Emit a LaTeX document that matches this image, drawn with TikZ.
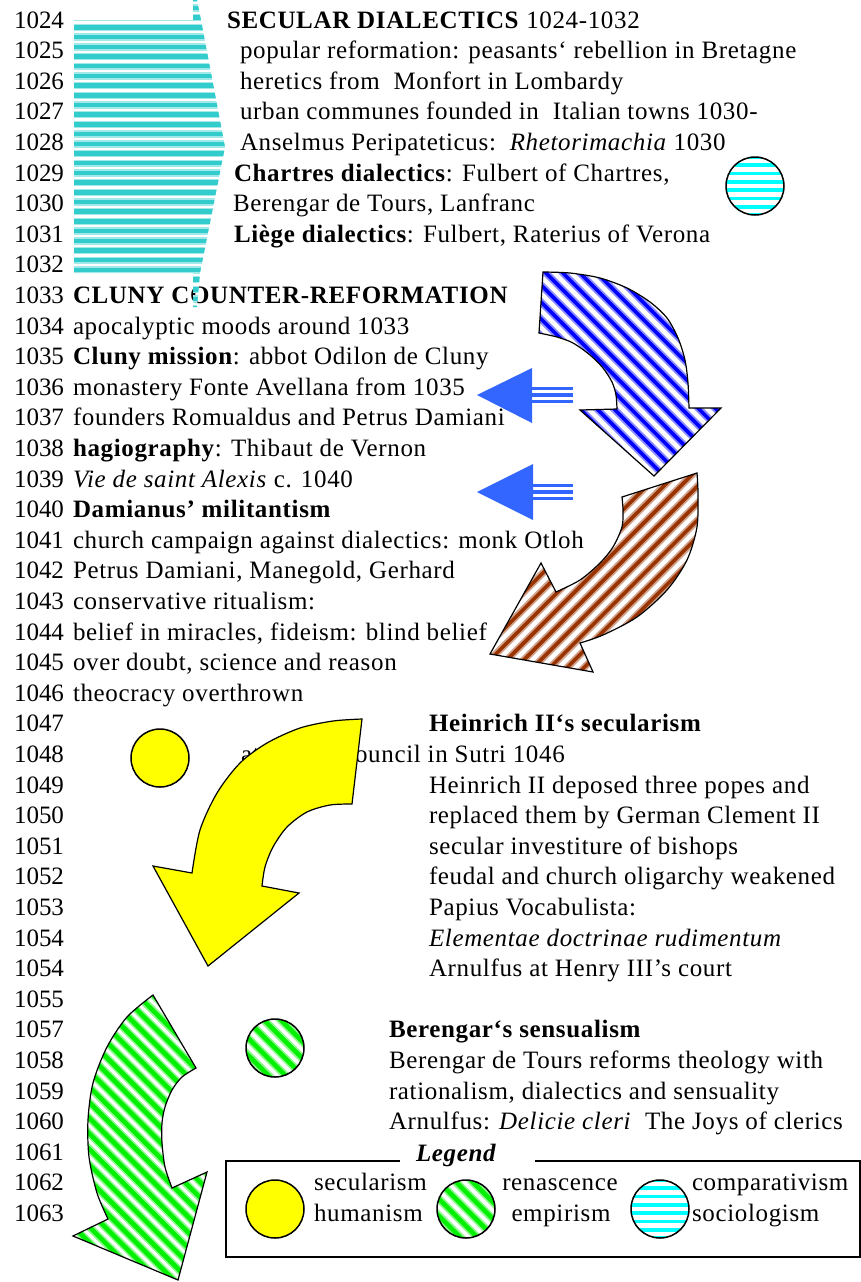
\documentclass[tikz,border=0pt]{standalone}
\usepackage{fontspec}
\setmainfont{Liberation Serif}[LetterSpace=2.6]
\newfontfamily\numfont{Liberation Serif}
\definecolor{bandcyan}{HTML}{33CCCC}
\definecolor{lightcyan}{HTML}{00FFFF}
\definecolor{stripeblue}{HTML}{0000FF}
\definecolor{stripebrown}{HTML}{993300}
\definecolor{stripegreen}{HTML}{00F000}
\definecolor{arrowblue}{HTML}{3366FF}
\definecolor{fillyellow}{HTML}{FFFF00}
\tikzset{
  txt/.style={anchor=base west, inner sep=0pt, outer sep=0pt},
  hstripes/.style n args={3}{path picture={
    \foreach \k in {-25,...,25}{
      \draw[#1!45, line width=#3*0.5pt+#2*0.15pt] ([yshift=\k*#2*0.5pt]path picture bounding box.center) ++(-300,0) -- ++(600,0);
      \draw[#1, line width=#3*0.5pt] ([yshift=\k*#2*0.5pt]path picture bounding box.center) ++(-300,0) -- ++(600,0);
    }}},
  bsstripes/.style n args={3}{path picture={
    \foreach \k in {-18,...,18}{
      \draw[#1!45, line width=#3*0.5pt+#2*0.15pt] ([xshift=\k*#2*0.70711pt]path picture bounding box.center) ++(-300,-300) -- ++(600,600);
      \draw[#1, line width=#3*0.5pt] ([xshift=\k*#2*0.70711pt]path picture bounding box.center) ++(-300,-300) -- ++(600,600);
    }}},
  fsstripes/.style n args={3}{path picture={
    \foreach \k in {-18,...,18}{
      \draw[#1!45, line width=#3*0.5pt+#2*0.15pt] ([xshift=\k*#2*0.70711pt]path picture bounding box.center) ++(-300,300) -- ++(600,-600);
      \draw[#1, line width=#3*0.5pt] ([xshift=\k*#2*0.70711pt]path picture bounding box.center) ++(-300,300) -- ++(600,-600);
    }}},
  outl/.style={draw=black, line width=0.6pt, line join=miter},
  dot/.style={circle, inner sep=0pt, minimum size=29pt, draw=black, line width=0.75pt},
  dblarrow/.style={fill=arrowblue},
  dbltail/.style={draw=arrowblue, line width=1.75pt},
}
\begin{document}
\begin{tikzpicture}[x=0.5pt, y=-0.5pt, font=\fontsize{12.5}{15}\selectfont]
\useasboundingbox (0,0) rectangle (861,1282);

% year column
\foreach \n [count=\i from 0] in {1024,1025,1026,1027,1028,1029,1030,1031,1032,1033,1034,1035,1036,1037,1038,1039,1040,1041,1042,1043,1044,1045,1046,1047,1048,1049,1050,1051,1052,1053,1054,1054,1055,1057,1058,1059,1060,1061,1062,1063}
  \node[txt, font=\fontsize{12.5}{15}\numfont] (num\i) at (14, 28+30.6*\i) {\n};

% secular dialectics block
\node[txt] (t1024) at (227,28) {\textbf{SECULAR DIALECTICS} 1024-1032};
\node[txt] (t1025) at (240,58.6) {popular reformation: peasants‘ rebellion in Bretagne};
\node[txt] (t1026) at (240,89.2) {heretics from\ \ Monfort in Lombardy};
\node[txt] (t1027) at (240,119.8) {urban communes founded in\ \ Italian towns 1030-};
\node[txt] (t1028) at (240,150.4) {Anselmus Peripateticus:\ \ \textit{Rhetorimachia} 1030};
\node[txt] (t1029) at (234,181) {\textbf{Chartres dialectics}: Fulbert of Chartres,};
\node[txt] (t1030) at (233,211.6) {Berengar de Tours, Lanfranc};
\node[txt] (t1031) at (234,242.2) {\textbf{Liège dialectics}: Fulbert, Raterius of Verona};

% cluny block
\node[txt] (t1033) at (73,303.4) {\textbf{CLUNY COUNTER-REFORMATION}};
\node[txt] (t1034) at (73,334) {apocalyptic moods around 1033};
\node[txt] (t1035) at (73,364.6) {\textbf{Cluny mission}: abbot Odilon de Cluny};
\node[txt] (t1036) at (73,395.2) {monastery Fonte Avellana from 1035};
\node[txt] (t1037) at (73,425.8) {founders Romualdus and Petrus Damiani};
\node[txt] (t1038) at (73,456.4) {\textbf{hagiography}: Thibaut de Vernon};
\node[txt] (t1039) at (73,487) {\textit{Vie de saint Alexis} c. 1040};
\node[txt] (t1040) at (73,517.6) {\textbf{Damianus’ militantism}};
\node[txt] (t1041) at (73,548.2) {church campaign against dialectics: monk Otloh};
\node[txt] (t1042) at (73,578.8) {Petrus Damiani, Manegold, Gerhard};
\node[txt] (t1043) at (73,609.4) {conservative ritualism:};
\node[txt] (t1044) at (73,640) {belief in miracles, fideism: blind belief};
\node[txt] (t1045) at (73,670.6) {over doubt, science and reason};
\node[txt] (t1046) at (73,701.2) {theocracy overthrown};

% Heinrich block
\node[txt] (t1047) at (429,731.8) {\textbf{Heinrich II‘s secularism}};
\node[txt] (t1048) at (241,762.4) {at the\hspace{19pt} council in Sutri 1046};
\node[txt] (t1049) at (429,793) {Heinrich II deposed three popes and};
\node[txt] (t1050) at (429,823.6) {replaced them by German Clement II};
\node[txt] (t1051) at (429,854.2) {secular investiture of bishops};
\node[txt] (t1052) at (429,884.8) {feudal and church oligarchy weakened};
\node[txt] (t1053) at (429,915.4) {Papius Vocabulista:};
\node[txt] (t1054a) at (429,946) {\textit{Elementae doctrinae rudimentum}};
\node[txt] (t1054b) at (429,976.6) {Arnulfus at Henry III’s court};

% Berengar block
\node[txt] (t1057) at (389,1037.8) {\textbf{Berengar‘s sensualism}};
\node[txt] (t1058) at (389,1068.4) {Berengar de Tours reforms theology with};
\node[txt] (t1059) at (389,1099) {rationalism, dialectics and sensuality};
\node[txt] (t1060) at (389,1129.6) {Arnulfus: \textit{Delicie cleri}\ \ The Joys of clerics};

% cyan band
\path[hstripes={bandcyan}{9.7}{4.5}]
  (193,0) -- (197,0) -- (201,20) -- (225,147) -- (200,273) -- (197,307)
  -- (193,307) -- (193,273) -- (74,273) -- (74,20) -- (193,20) -- cycle;

% small circles
\node[dot, fill=lightcyan, hstripes={white}{8.3}{2.2}] (ccyan) at (755,186) {};
\node[dot, fill=fillyellow] (cyellow) at (160,758) {};
\node[dot, fill=white, bsstripes={stripegreen}{12}{4.5}] (cgreen) at (275,1048) {};

% blue striped arrow
\draw[outl, fill=white, bsstripes={stripeblue}{12}{3.6}]
  plot[smooth] coordinates {(543,272) (570,273) (600,278) (627,288) (650,302) (667,318) (678,338) (685,360) (688,383) (689,408)}
  -- (721,408) -- (654,476) -- (580,410)
  -- plot[smooth] coordinates {(617,409) (616,395) (612,382) (603,368) (590,355) (573,343) (557,337) (539,333)}
  -- cycle;

% brown striped arrow
\draw[outl, fill=white, fsstripes={stripebrown}{12}{3.6}]
  plot[smooth] coordinates {(697,473) (698,493) (697,527) (687,560) (667,590) (637,617) (603,635) (580,643)}
  -- (593,672) -- (490,654) -- (541,563)
  -- plot[smooth] coordinates {(556,592) (580,580) (600,563) (613,547) (622,527) (623,510) (622,497)}
  -- cycle;

% blue double-line arrows
\fill[dblarrow] (477,395) -- (532,368) -- (532,423) -- cycle;
\draw[dbltail] (532,388.5) -- (573,388.5);
\draw[dbltail] (532,395) -- (573,395);
\draw[dbltail] (532,401.5) -- (573,401.5);
\fill[dblarrow] (477,492) -- (533,464) -- (533,520) -- cycle;
\draw[dbltail] (533,485.5) -- (573,485.5);
\draw[dbltail] (533,492) -- (573,492);
\draw[dbltail] (533,498.5) -- (573,498.5);

% yellow arrow
\draw[outl, fill=fillyellow]
  plot[smooth] coordinates {(362,719) (333,721) (300,728) (267,743) (240,763) (217,793) (200,830) (192,873)}
  -- (153,866) -- (208,966) -- (299,893)
  -- plot[smooth] coordinates {(262,886) (265,867) (273,847) (287,827) (307,812) (330,805) (352,804)}
  -- cycle;

% green arrow
\draw[outl, fill=white, bsstripes={stripegreen}{11}{4.5}]
  plot[smooth] coordinates {(153,995) (127,1017) (107,1047) (93,1083) (88,1120) (89,1157) (97,1193) (108,1219)}
  -- (73,1236) -- (178,1280) -- (207,1172)
  -- plot[smooth] coordinates {(172,1188) (165,1167) (162,1143) (162,1123) (165,1107) (172,1090) (182,1077) (196,1068)}
  -- cycle;

% legend
\draw[line width=0.75pt] (400,1161) -- (226,1161) -- (226,1257) -- (860,1257) -- (860,1161) -- (535,1161);
\node[txt] (legtitle) at (416,1161) {\textbf{\textit{Legend}}};
\node[dot, fill=fillyellow] (lyellow) at (275,1209) {};
\node[dot, fill=white, bsstripes={stripegreen}{12}{4.5}] (lgreen) at (466,1209) {};
\node[dot, fill=lightcyan, hstripes={white}{8.3}{2.2}] (lcyan) at (660,1209) {};
\node[txt] (lsec) at (314,1190.8) {secularism};
\node[txt] (lhum) at (314,1221.4) {humanism};
\node[anchor=base, inner sep=0pt] (lren) at (560,1190.8) {renascence};
\node[anchor=base, inner sep=0pt] (lemp) at (561,1221.4) {empirism};
\node[txt] (lcomp) at (692,1190.8) {comparativism};
\node[txt] (lsoc) at (692,1221.4) {sociologism};
\end{tikzpicture}
\end{document}
